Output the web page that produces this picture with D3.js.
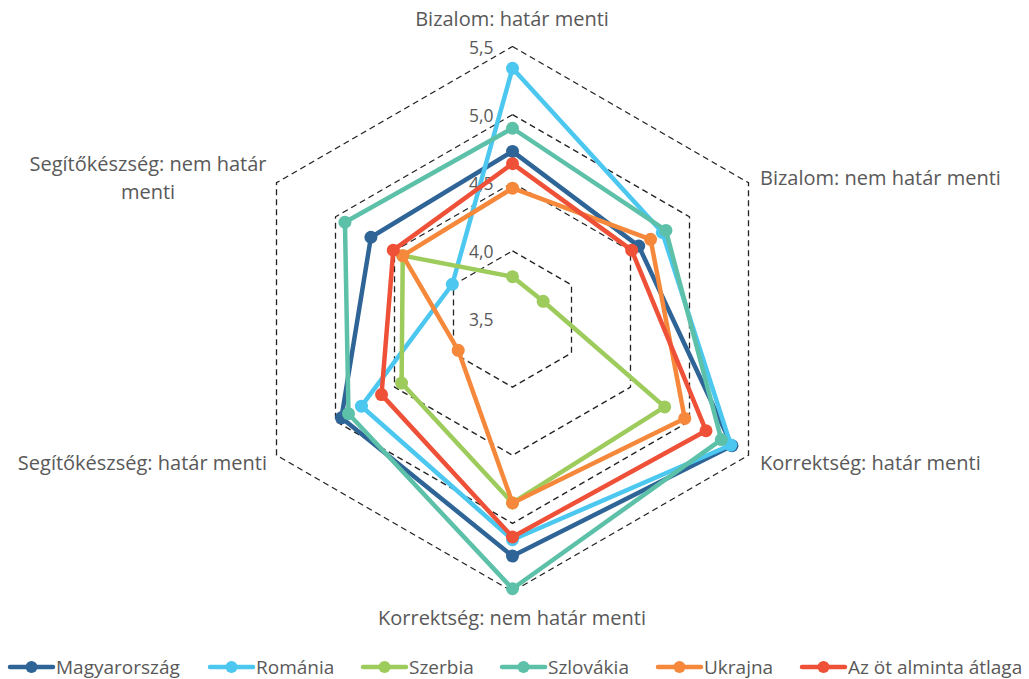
<!DOCTYPE html>
<html>
<head>
<meta charset="utf-8">
<script src="https://cdn.jsdelivr.net/npm/d3@7"></script>
<style>
  body { margin: 0; background: #fff; }
  text { font-family: "Open Sans", sans-serif; fill: #595959; }
</style>
</head>
<body>
<div id="chart"></div>
<script>
// categories (clockwise from the top)
var axes = ["Bizalom: határ menti", "Bizalom: nem határ menti", "Korrektség: határ menti",
            "Korrektség: nem határ menti", "Segítőkészség: határ menti", "Segítőkészség: nem határ menti"];

var seriesNames = ["Magyarország", "Románia", "Szerbia", "Szlovákia", "Ukrajna", "Az öt alminta átlaga"];
var seriesColors = ["#2f6497", "#4cc7f0", "#9dcb5c", "#5cc1a8", "#f5883b", "#ee5038"];

// values per series, one per axis
var magyarorszag = [4.73, 4.57, 5.36, 5.24, 4.95, 4.70];
var romania      = [5.34, 4.77, 5.35, 5.12, 4.78, 4.01];
var szerbia      = [3.81, 3.76, 4.79, 4.85, 4.44, 4.43];
var szlovakia    = [4.90, 4.80, 5.27, 5.48, 4.89, 4.92];
var ukrajna      = [4.46, 4.67, 4.96, 4.85, 3.96, 4.43];
var atlag        = [4.64, 4.51, 5.14, 5.10, 4.61, 4.51];

var ticks = [3.5, 4.0, 4.5, 5.0, 5.5];

function main() {
    var width = 1029, height = 679;
    var cx = 512.5, cy = 319, radius = 272.5;

    var svg = d3.select("#chart")
        .append("svg")
        .attr("width", width)
        .attr("height", height);

    var r = d3.scaleLinear().domain([3.5, 5.5]).range([0, radius]);
    var angle = d3.scalePoint().domain(d3.range(axes.length)).range([0, 2 * Math.PI * (axes.length - 1) / axes.length]);

    function px(i, v) { return cx + r(v) * Math.sin(angle(i)); }
    function py(i, v) { return cy - r(v) * Math.cos(angle(i)); }

    // dashed grid rings
    var ring = d3.line().x(function (d) { return d[0]; }).y(function (d) { return d[1]; });
    ticks.slice(1).forEach(function (t) {
        var pts = axes.map(function (a, i) { return [px(i, t), py(i, t)]; });
        pts.push(pts[0]);
        svg.append("path")
            .attr("d", ring(pts))
            .attr("fill", "none")
            .attr("stroke", "#222")
            .attr("stroke-width", 1.3)
            .attr("stroke-dasharray", "6,4");
    });

    // tick labels
    svg.selectAll("tickLabel")
        .data(ticks)
        .enter()
        .append("text")
        .attr("x", cx - 19)
        .attr("y", function (d) { return py(0, d); })
        .attr("text-anchor", "end")
        .attr("dominant-baseline", "central")
        .attr("font-size", "17.5px")
        .text(function (d) { return d3.format(".1f")(d).replace(".", ","); });

    // category labels
    var labelPos = [
        {x: 512, y: 18, anchor: "middle"},
        {x: 760, y: 177, anchor: "start"},
        {x: 760, y: 462, anchor: "start"},
        {x: 512, y: 617, anchor: "middle"},
        {x: 267, y: 462, anchor: "end"},
        {x: 148, y: 163, anchor: "middle"}
    ];
    axes.forEach(function (a, i) {
        var t = svg.append("text")
            .attr("x", labelPos[i].x)
            .attr("y", labelPos[i].y)
            .attr("text-anchor", labelPos[i].anchor)
            .attr("dominant-baseline", "central")
            .attr("font-size", "20px");
        if (i === 5) {
            t.append("tspan").attr("x", labelPos[i].x).text("Segítőkészség: nem határ");
            t.append("tspan").attr("x", labelPos[i].x).attr("dy", 28).text("menti");
        } else {
            t.text(a);
        }
    });

    // series
    var data = [magyarorszag, romania, szerbia, szlovakia, ukrajna, atlag];
    var line = d3.line()
        .x(function (d, i) { return px(i % axes.length, d); })
        .y(function (d, i) { return py(i % axes.length, d); });

    data.forEach(function (vals, s) {
        var g = svg.append("g");
        g.append("path")
            .attr("d", line(vals.concat([vals[0]])))
            .attr("fill", "none")
            .attr("stroke", seriesColors[s])
            .attr("stroke-width", 4.5)
            .attr("stroke-linejoin", "round");
        g.selectAll("circle")
            .data(vals)
            .enter()
            .append("circle")
            .attr("cx", function (d, i) { return px(i, d); })
            .attr("cy", function (d, i) { return py(i, d); })
            .attr("r", 6.5)
            .attr("fill", seriesColors[s]);
    });

    // legend
    var legendX = [10, 210, 363, 502, 658, 802];
    var legendY = 667;
    var lg = svg.selectAll("legend")
        .data(seriesNames)
        .enter()
        .append("g")
        .attr("transform", function (d, i) { return "translate(" + legendX[i] + "," + legendY + ")"; });
    lg.append("line")
        .attr("x1", 0).attr("x2", 43)
        .attr("stroke", function (d, i) { return seriesColors[i]; })
        .attr("stroke-width", 4.5)
        .attr("stroke-linecap", "round");
    lg.append("circle")
        .attr("cx", 21.5)
        .attr("r", 6)
        .attr("fill", function (d, i) { return seriesColors[i]; });
    lg.append("text")
        .attr("x", 46)
        .attr("dominant-baseline", "central")
        .attr("font-size", "19px")
        .text(function (d) { return d; });
}

main()
</script>
</body>
</html>
